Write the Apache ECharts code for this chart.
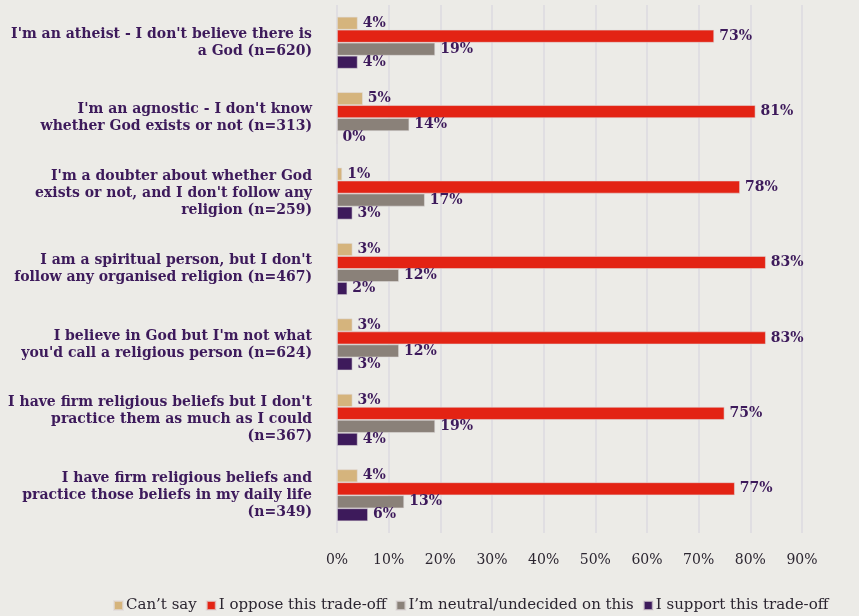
<!DOCTYPE html>
<html><head><meta charset="utf-8">
<script src="https://cdn.jsdelivr.net/npm/echarts@6/dist/echarts.min.js"></script>
<style>html,body{margin:0;padding:0;background:#ECEBE7;}#c{width:859px;height:616px;}</style>
</head><body><div id="c"></div>
<script>
const categories = [
  "I'm an atheist - I don't believe there is\na God (n=620)",
  "I'm an agnostic - I don't know\nwhether God exists or not (n=313)",
  "I'm a doubter about whether God\nexists or not, and I don't follow any\nreligion (n=259)",
  "I am a spiritual person, but I don't\nfollow any organised religion (n=467)",
  "I believe in God but I'm not what\nyou'd call a religious person (n=624)",
  "I have firm religious beliefs but I don't\npractice them as much as I could\n(n=367)",
  "I have firm religious beliefs and\npractice those beliefs in my daily life\n(n=349)"
];
const seriesNames = ["Can\u2019t say", "I oppose this trade-off", "I\u2019m neutral/undecided on this", "I support this trade-off"];
const cantSay = [4, 5, 1, 3, 3, 3, 4];
const oppose = [73, 81, 78, 83, 83, 75, 77];
const neutral = [19, 14, 17, 12, 12, 19, 13];
const support = [4, 0, 3, 2, 3, 4, 6];
const tickValues = [0, 10, 20, 30, 40, 50, 60, 70, 80, 90];

const colors = ["#D5B47D", "#E32314", "#8A8179", "#3D1A5B"];
const font = "DejaVu Serif";
const dataSets = [cantSay, oppose, neutral, support];

const chart = echarts.init(document.getElementById('c'));
chart.setOption({
  backgroundColor: '#ECEBE7',
  animation: false,
  grid: {left: 337, right: 57, top: 5, bottom: 83},
  legend: {
    top: 593, left: 108,
    itemWidth: 9, itemHeight: 9, itemGap: 9,
    icon: 'rect',
    textStyle: {fontFamily: font, fontSize: 15, color: '#2B2530', padding: [0,0,0,-2]},
    data: seriesNames
  },
  xAxis: {
    type: 'value', min: tickValues[0], max: tickValues[tickValues.length - 1], interval: 10,
    axisLabel: {formatter: v => v + '%', fontFamily: font, fontSize: 14, color: '#2B2530', margin: 20},
    splitLine: {lineStyle: {color: '#E0DEE2', width: 2}},
    axisLine: {show: false}, axisTick: {show: false}
  },
  yAxis: {
    type: 'category', inverse: true, data: categories,
    axisLine: {show: false}, axisTick: {show: false},
    axisLabel: {fontFamily: font, fontWeight: 'bold', fontSize: 14, color: '#3D1A5B', lineHeight: 17, margin: 25, align: 'right', padding: [3, 0, 0, 0]}
  },
  series: dataSets.map((d, i) => ({
    name: seriesNames[i], type: 'bar', data: d,
    barWidth: 13, barGap: '0%',
    itemStyle: {color: colors[i], borderColor: 'rgba(225,220,220,0.7)', borderWidth: 0.8},
    label: {show: true, position: 'right', distance: 5, formatter: '{c}%', fontFamily: font, fontWeight: 'bold', fontSize: 14, color: '#3D1A5B'}
  }))
});
</script></body></html>
